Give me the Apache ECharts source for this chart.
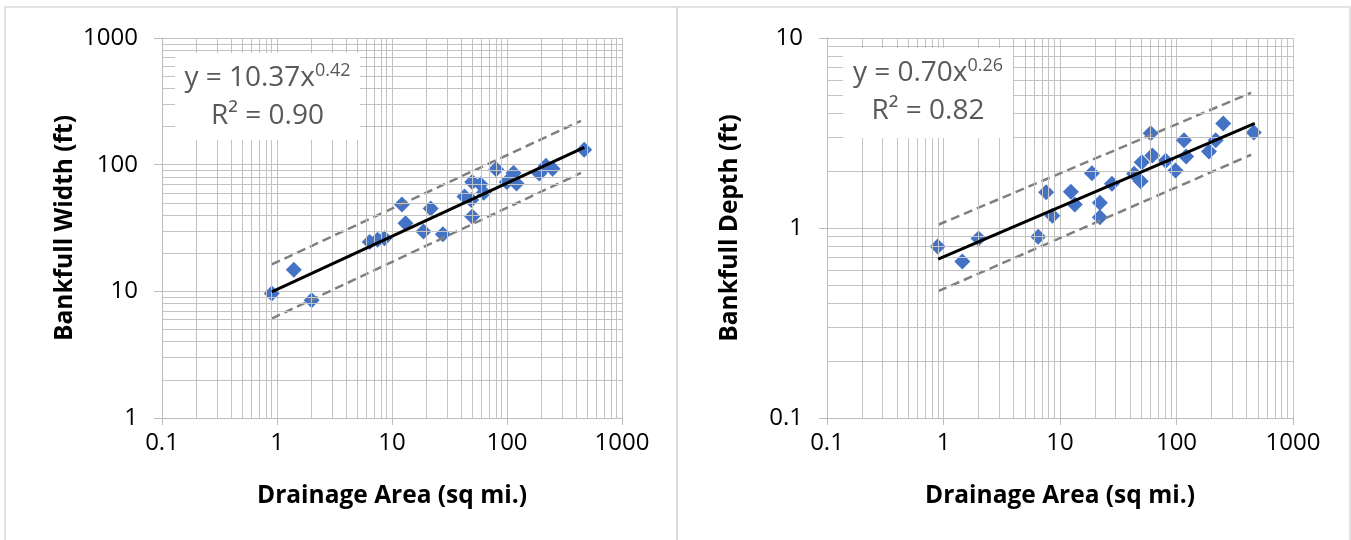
<!DOCTYPE html>
<html><head><meta charset="utf-8">
<script src="https://cdn.jsdelivr.net/npm/echarts@6/dist/echarts.min.js"></script>
<style>html,body{margin:0;padding:0;background:#fff}#c{width:1351px;height:540px}</style>
</head><body><div id="c"></div>
<script>
// ---- data ----
const areaW  = [0.9, 1.4, 2.0, 6.4, 7.5, 8.6, 12.2, 13.1, 18.8, 21.7, 27.7, 42.7, 48.8, 49.8, 49.8, 58.8, 62.8, 80.4, 99.6, 114, 121, 191, 218, 249, 469];
const widthW = [9.6, 14.8, 8.5, 24.5, 25.5, 26.3, 48.5, 34.5, 29.7, 45, 28.2, 56, 52.5, 73, 38.9, 70, 60, 92, 73, 86, 71, 85, 98, 93, 131];
const areaD  = [0.89, 1.45, 2.0, 6.5, 7.6, 8.6, 12.4, 13.4, 18.8, 22, 22, 27.9, 43.3, 49.3, 50.3, 60, 62, 80.8, 98, 116, 121, 190, 217, 252, 461];
const depthD = [0.80, 0.667, 0.88, 0.90, 1.54, 1.16, 1.55, 1.33, 1.94, 1.36, 1.14, 1.71, 1.93, 1.76, 2.22, 3.15, 2.41, 2.26, 2.01, 2.9, 2.38, 2.53, 2.9, 3.55, 3.18];
const trendW = [[0.9, 9.9], [470, 137]];
const upperW = [[0.9, 16.3], [440, 222]];
const lowerW = [[0.9, 6.1], [440, 86]];
const trendD = [[0.9, 0.685], [470, 3.55]];
const upperD = [[0.9, 1.04], [437, 5.15]];
const lowerD = [[0.9, 0.465], [437, 2.43]];
const xTickLabels  = ['0.1', '1', '10', '100', '1000'];
const yTickLabelsW = ['1', '10', '100', '1000'];
const yTickLabelsD = ['0.1', '1', '10'];
const xTitle  = 'Drainage Area (sq mi.)';
const yTitleW = 'Bankfull Width (ft)';
const yTitleD = 'Bankfull Depth (ft)';
const eqW = ['y = 10.37x', '0.42', 'R² = 0.90'];
const eqD = ['y = 0.70x', '0.26', 'R² = 0.82'];

// ---- styling / layout ----
const F = '"Open Sans", "Noto Sans", sans-serif';
const GRID = '#c3c3c3';
const AX = '#bcbcbc';

function minorValues(minExp, maxExp) {
  const out = [];
  for (let e = minExp; e < maxExp; e++) {
    for (let k = 2; k <= 9; k++) out.push(k * Math.pow(10, e));
  }
  return out;
}
function labelFmt(labels, minExp) {
  return v => labels[Math.round(Math.log10(v)) - minExp] || '';
}
function xAxisCfg(gi) {
  return {
    type: 'log', logBase: 10, gridIndex: gi, min: 0.1, max: 1000,
    name: xTitle, nameLocation: 'middle', nameGap: 66,
    nameTextStyle: { fontFamily: F, fontSize: 24.5, fontWeight: 'bold', color: '#000' },
    axisLine: { show: true, onZero: false, lineStyle: { color: AX, width: 1 } },
    axisTick: { show: true, inside: false, length: 7, lineStyle: { color: AX } },
    axisLabel: { margin: 13, fontFamily: F, fontSize: 24, color: '#000', formatter: labelFmt(xTickLabels, -1) },
    splitLine: { show: true, lineStyle: { color: GRID, width: 1 } },
    minorTick: { show: false }, minorSplitLine: { show: false }
  };
}
function yAxisCfg(gi, min, max, labels, minExp, title) {
  return {
    type: 'log', logBase: 10, gridIndex: gi, min: min, max: max,
    name: title, nameLocation: 'middle', nameGap: 84, nameRotate: 90,
    nameTextStyle: { fontFamily: F, fontSize: 24.5, fontWeight: 'bold', color: '#000' },
    axisLine: { show: true, onZero: false, lineStyle: { color: AX, width: 1 } },
    axisTick: { show: true, inside: false, length: 8, lineStyle: { color: AX } },
    axisLabel: { margin: 24, fontFamily: F, fontSize: 24, color: '#000', formatter: labelFmt(labels, minExp) },
    splitLine: { show: true, lineStyle: { color: GRID, width: 1 } }
  };
}
function gridLinesSeries(gi, xMinors, yMinors) {
  return {
    type: 'line', xAxisIndex: gi, yAxisIndex: gi, data: [], z: 1, silent: true,
    markLine: {
      silent: true, symbol: ['none', 'none'], animation: false,
      label: { show: false },
      lineStyle: { type: 'solid', color: GRID, width: 1 },
      data: xMinors.map(v => ({ xAxis: v })).concat(yMinors.map(v => ({ yAxis: v })))
    }
  };
}
function lineSeries(gi, data, color, width, type, z) {
  return {
    type: 'line', xAxisIndex: gi, yAxisIndex: gi, data: data, symbol: 'none', showSymbol: false,
    lineStyle: { color: color, width: width, type: type }, z: z, silent: true
  };
}
function scatterSeries(gi, xs, ys) {
  return {
    type: 'scatter', xAxisIndex: gi, yAxisIndex: gi, symbol: 'diamond', symbolSize: 16,
    itemStyle: { color: '#4472C4', opacity: 1 }, z: 3,
    data: xs.map((x, i) => [x, ys[i]])
  };
}
function eqBox(x, y, w, h, eq) {
  return {
    type: 'group', z: 50,
    children: [
      { type: 'rect', shape: { x: x, y: y, width: w, height: h }, style: { fill: '#fff' }, z: 50 },
      { type: 'text', x: x + w / 2, y: y + 25, z: 51,
        style: { text: eq[0] + '{s|' + eq[1] + '}', align: 'center', verticalAlign: 'middle',
          font: '28px ' + F, fill: '#595959',
          rich: { s: { fontSize: 18, fontFamily: F, fill: '#595959', color: '#595959', verticalAlign: 'top', padding: [0, 0, 14, 0] } } } },
      { type: 'text', x: x + w / 2, y: y + 63, z: 51,
        style: { text: eq[2], align: 'center', verticalAlign: 'middle', font: '28px ' + F, fill: '#595959' } }
    ]
  };
}

const chart = echarts.init(document.getElementById('c'), null, { renderer: 'canvas' });
chart.setOption({
  animation: false,
  backgroundColor: '#ffffff',
  grid: [
    { left: 162, top: 38, width: 460, height: 380, containLabel: false, outerBoundsMode: 'none' },
    { left: 827, top: 38, width: 466, height: 380, containLabel: false, outerBoundsMode: 'none' }
  ],
  xAxis: [xAxisCfg(0), xAxisCfg(1)],
  yAxis: [
    yAxisCfg(0, 1, 1000, yTickLabelsW, 0, yTitleW),
    yAxisCfg(1, 0.1, 10, yTickLabelsD, -1, yTitleD)
  ],
  series: [
    gridLinesSeries(0, minorValues(-1, 3), minorValues(0, 3)),
    gridLinesSeries(1, minorValues(-1, 3), minorValues(-1, 1)),
    scatterSeries(0, areaW, widthW),
    scatterSeries(1, areaD, depthD),
    lineSeries(0, upperW, '#808080', 2.5, [9, 5], 4),
    lineSeries(0, lowerW, '#808080', 2.5, [9, 5], 4),
    lineSeries(0, trendW, '#000000', 3, 'solid', 5),
    lineSeries(1, upperD, '#808080', 2.5, [9, 5], 4),
    lineSeries(1, lowerD, '#808080', 2.5, [9, 5], 4),
    lineSeries(1, trendD, '#000000', 3, 'solid', 5)
  ],
  graphic: [
    { type: 'rect', shape: { x: 5, y: 7, width: 672, height: 560 }, style: { fill: 'none', stroke: '#d9d9d9', lineWidth: 1.5 }, z: 0, silent: true },
    { type: 'rect', shape: { x: 677, y: 7, width: 673, height: 560 }, style: { fill: 'none', stroke: '#d9d9d9', lineWidth: 1.5 }, z: 0, silent: true },
    eqBox(175, 53, 185, 87, eqW),
    eqBox(843, 48, 170, 90, eqD)
  ]
});
</script></body></html>
